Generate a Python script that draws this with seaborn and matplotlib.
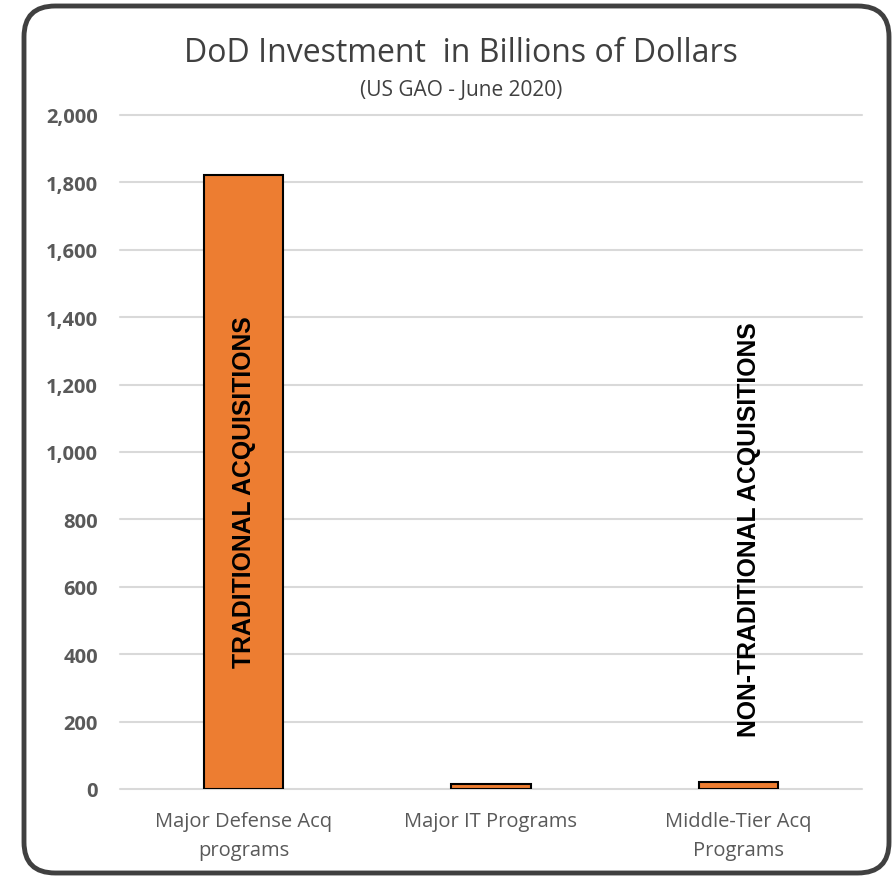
import matplotlib
matplotlib.use("Agg")
import matplotlib.pyplot as plt
import seaborn as sns
import pandas as pd
from matplotlib.patches import FancyBboxPatch

categories = ["Major Defense Acq\nprograms", "Major IT Programs", "Middle-Tier Acq\nPrograms"]
values = [1822, 15, 20]
yticks = [0, 200, 400, 600, 800, 1000, 1200, 1400, 1600, 1800, 2000]
title = "DoD Investment  in Billions of Dollars"
subtitle = "(US GAO - June 2020)"
annotations = ["TRADITIONAL ACQUISITIONS", "NON-TRADITIONAL ACQUISITIONS"]

sns.set_style("white")
plt.rcParams['font.family'] = ['Open Sans', 'DejaVu Sans']

df = pd.DataFrame({"cat": categories, "val": values})

fig = plt.figure(figsize=(8.93, 8.79), dpi=100)
ax = fig.add_axes([120/893, 1-790/879, 742/893, 674/879])

sns.barplot(data=df, x="cat", y="val", color="#ED7D31", width=0.32,
            edgecolor="black", linewidth=1.5, saturation=1, ax=ax, zorder=3)

ax.set_ylim(0, 2000)
ax.set_xlim(-0.5, 2.5)
ax.set_yticks(yticks)
ax.set_yticklabels([f"{v:,}" for v in yticks], fontsize=14.5, fontweight="bold", color="#595959")
ax.tick_params(axis="y", length=0, pad=16)
ax.tick_params(axis="x", length=0, pad=16, labelsize=14.5, labelcolor="#595959")
for lbl in ax.get_xticklabels():
    lbl.set_linespacing(1.6)
for y in yticks:
    ax.axhline(y, color="#d9d9d9", lw=1.5, zorder=1, clip_on=False)
for s in ax.spines.values():
    s.set_visible(False)
ax.set_xlabel("")
ax.set_ylabel("")

ax.text(0, 884, annotations[0], rotation=90, ha="center", va="center",
        fontsize=17.8, fontweight="bold", color="black", zorder=4,
        family=["Liberation Sans", "DejaVu Sans"])
ax.text(2.045, 774, annotations[1], rotation=90, ha="center", va="center",
        fontsize=17.8, fontweight="bold", color="black", zorder=4,
        family=["Liberation Sans", "DejaVu Sans"])

fig.text(461/893, 1-53/879, title, ha="center", va="center", fontsize=23, color="#404040")
fig.text(461/893, 1-91/879, subtitle, ha="center", va="center", fontsize=15, color="#404040")

frame = FancyBboxPatch((24/893, 5/879), 865/893, 867/879,
                       boxstyle="round,pad=0,rounding_size=0.035",
                       transform=fig.transFigure, fill=False,
                       edgecolor="#404040", linewidth=3.5)
fig.patches.append(frame)

fig.savefig("out.png", dpi=100)
